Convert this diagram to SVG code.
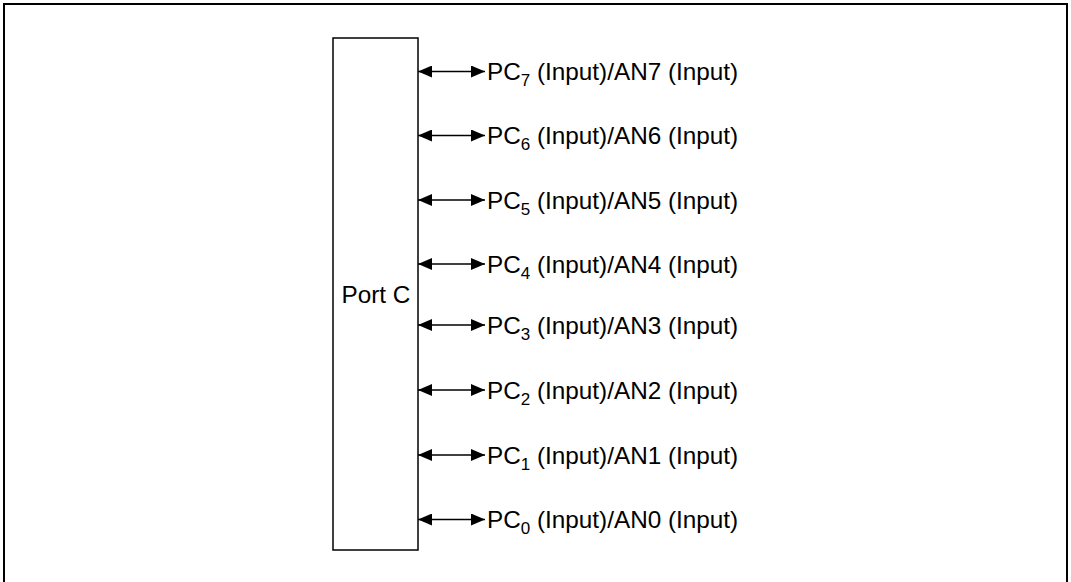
<svg xmlns="http://www.w3.org/2000/svg" width="1071" height="582" viewBox="0 0 1071 582">
<style>
.t{font-family:"Liberation Sans",Arial,sans-serif;font-size:24.3px;fill:#000}
.s{font-size:17px}
.ln{stroke:#000;stroke-width:1.5;fill:none}
</style>
<defs>
<marker id="ah" viewBox="0 0 14 12" refX="14" refY="6" markerWidth="14" markerHeight="12" markerUnits="userSpaceOnUse" orient="auto-start-reverse">
<path d="M0,0 L14,6 L0,12 z" fill="#000"/>
</marker>
</defs>
<rect width="1071" height="582" fill="#fff"/>
<path d="M4,590 V4 H1067 V590" fill="none" stroke="#000" stroke-width="2"/>
<g id="portc">
<rect x="333" y="38" width="85" height="512" fill="#fff" stroke="#000" stroke-width="1.5"/>
<text class="t" x="376" y="303" text-anchor="middle">Port C</text>
</g>
<g id="connectors">
<line class="ln" x1="418" y1="71.5" x2="485" y2="71.5" marker-start="url(#ah)" marker-end="url(#ah)"/>
<line class="ln" x1="418" y1="135.5" x2="485" y2="135.5" marker-start="url(#ah)" marker-end="url(#ah)"/>
<line class="ln" x1="418" y1="200" x2="485" y2="200" marker-start="url(#ah)" marker-end="url(#ah)"/>
<line class="ln" x1="418" y1="264" x2="485" y2="264" marker-start="url(#ah)" marker-end="url(#ah)"/>
<line class="ln" x1="418" y1="325" x2="485" y2="325" marker-start="url(#ah)" marker-end="url(#ah)"/>
<line class="ln" x1="418" y1="390" x2="485" y2="390" marker-start="url(#ah)" marker-end="url(#ah)"/>
<line class="ln" x1="418" y1="455" x2="485" y2="455" marker-start="url(#ah)" marker-end="url(#ah)"/>
<line class="ln" x1="418" y1="519.5" x2="485" y2="519.5" marker-start="url(#ah)" marker-end="url(#ah)"/>
</g>
<g id="pc7"><text class="t" x="487" y="80">PC<tspan class="s" dy="6">7</tspan><tspan dy="-6"> (Input)/AN7 (Input)</tspan></text></g>
<g id="pc6"><text class="t" x="487" y="144">PC<tspan class="s" dy="6">6</tspan><tspan dy="-6"> (Input)/AN6 (Input)</tspan></text></g>
<g id="pc5"><text class="t" x="487" y="208.5">PC<tspan class="s" dy="6">5</tspan><tspan dy="-6"> (Input)/AN5 (Input)</tspan></text></g>
<g id="pc4"><text class="t" x="487" y="272.5">PC<tspan class="s" dy="6">4</tspan><tspan dy="-6"> (Input)/AN4 (Input)</tspan></text></g>
<g id="pc3"><text class="t" x="487" y="333.5">PC<tspan class="s" dy="6">3</tspan><tspan dy="-6"> (Input)/AN3 (Input)</tspan></text></g>
<g id="pc2"><text class="t" x="487" y="398.5">PC<tspan class="s" dy="6">2</tspan><tspan dy="-6"> (Input)/AN2 (Input)</tspan></text></g>
<g id="pc1"><text class="t" x="487" y="463.5">PC<tspan class="s" dy="6">1</tspan><tspan dy="-6"> (Input)/AN1 (Input)</tspan></text></g>
<g id="pc0"><text class="t" x="487" y="528">PC<tspan class="s" dy="6">0</tspan><tspan dy="-6"> (Input)/AN0 (Input)</tspan></text></g>
</svg>
